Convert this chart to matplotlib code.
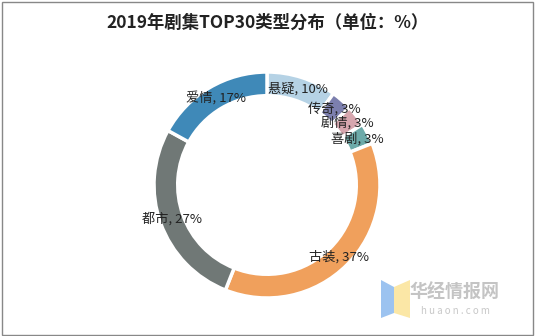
import matplotlib
matplotlib.use("Agg")
import numpy as np
import matplotlib.pyplot as plt
from matplotlib.patches import Rectangle, Polygon

plt.rcParams['font.family'] = ['Noto Sans CJK SC', 'DejaVu Sans']

categories = ['悬疑', '传奇', '剧情', '喜剧', '古装', '都市', '爱情']
values = [10, 3, 3, 3, 37, 27, 17]
colors = ['#b5d2e5', '#7c7fae', '#d6a6ae', '#6daaa9', '#f0a05c', '#707876', '#3f89b8']

fig = plt.figure(figsize=(5.35, 3.36), dpi=100)
ax = fig.add_axes([154 / 535, 38 / 336, 226 / 535, 226 / 336])

wedges, _ = ax.pie(values, colors=colors, startangle=90, counterclock=False,
                   radius=1.0,
                   wedgeprops=dict(width=0.21, edgecolor='white', linewidth=2.5))

# labels sitting on the ring
ang = 90.0
for cat, v in zip(categories, values):
    span = v / sum(values) * 360
    mid = np.deg2rad(ang - span / 2)
    ang -= span
    r = 0.895
    ax.text(r * np.cos(mid), r * np.sin(mid), f'{cat}, {v}%',
            ha='center', va='center', fontsize=9.5, color='#222222')

ax.set_xlim(-1, 1)
ax.set_ylim(-1, 1)
ax.set_aspect('equal')
ax.axis('off')

fig.text(0.5, 1 - 23 / 336, '2019年剧集TOP30类型分布（单位：%）',
         ha='center', va='center', fontsize=12.5, fontweight='bold', color='#222222')

# border
fig.patches.append(Rectangle((0.003, 0.004), 0.994, 0.99, transform=fig.transFigure,
                             fill=False, edgecolor='#888888', linewidth=1))

# watermark
fig.patches.append(Polygon([(381 / 535, 1 - 280 / 336), (394 / 535, 1 - 287 / 336),
                            (394 / 535, 1 - 313 / 336), (381 / 535, 1 - 318 / 336)],
                           closed=True, transform=fig.transFigure,
                           facecolor='#9cc3f0', edgecolor='none'))
fig.patches.append(Polygon([(394 / 535, 1 - 287 / 336), (410 / 535, 1 - 280 / 336),
                            (410 / 535, 1 - 318 / 336), (394 / 535, 1 - 313 / 336)],
                           closed=True, transform=fig.transFigure,
                           facecolor='#fbe7a6', edgecolor='none'))
fig.text(455 / 535, 1 - 292 / 336, '华经情报网', ha='center', va='center',
         fontsize=13, color='#c4c4c4', fontweight='bold')
fig.text(455 / 535, 1 - 311 / 336, 'h u a o n . c o m', ha='center', va='center',
         fontsize=7, color='#c8c8c8')

fig.savefig('out.png', dpi=100)
